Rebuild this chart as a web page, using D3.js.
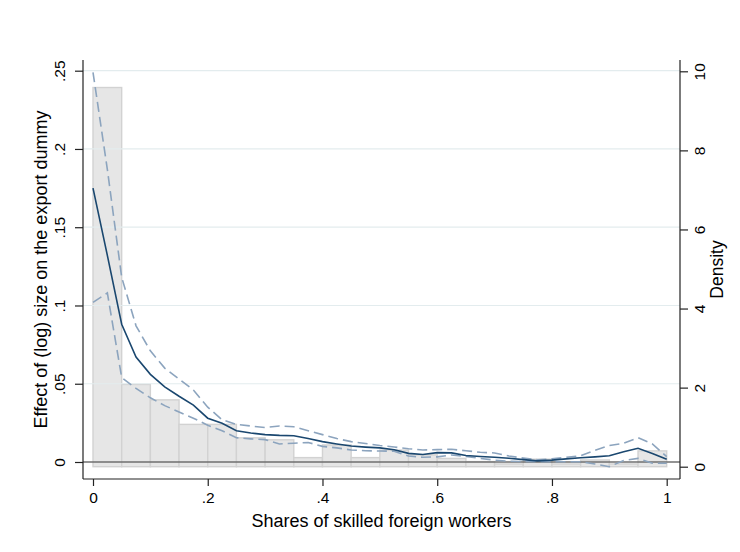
<!DOCTYPE html>
<html>
<body>
<script src="https://d3js.org/d3.v7.min.js"></script>
<style>
  body { margin: 0; background: #fff; }
  text { font-family: "Liberation Sans", Arial, sans-serif; fill: #000; }
  .tick line { stroke: #222; stroke-width: 1.2; }
</style>
<script>
// data
const xs = [0, .025, .05, .075, .1, .125, .15, .175, .2, .225, .25, .275, .3, .325, .35, .375, .4,
  .425, .45, .475, .5, .525, .55, .575, .6, .625, .65, .675, .7, .725, .75, .775, .8, .825,
  .85, .875, .9, .925, .95, .975, 1];

// point estimate
const effect = [.175, .132, .088, .067, .056, .048, .042, .0363, .028, .0248, .020, .0185, .0175,
  .017, .0168, .015, .013, .0115, .0102, .0095, .009, .0078, .0055, .0048, .006, .0058, .0042,
  .0035, .003, .0024, .0015, .0007, .0012, .002, .0027, .0033, .004, .0065, .0088, .0055, .0017];

// upper / lower confidence band
const upper = [.249, .187, .118, .087, .071, .060, .053, .046, .035, .027, .024, .023, .022, .023,
  .0225, .020, .0175, .015, .013, .0118, .0105, .0096, .0085, .0077, .0079, .0081, .0072, .0062,
  .0058, .0038, .0025, .0014, .002, .003, .004, .0075, .0105, .012, .0155, .0115, .0034];

const lower = [.102, .108, .054, .047, .041, .036, .032, .028, .0235, .020, .0155, .0148, .0143,
  .0115, .012, .0125, .010, .009, .0077, .0072, .007, .0069, .0038, .003, .0033, .0045, .0035,
  .0023, .0012, .0005, .0003, .0002, .0002, .0002, .0002, -.0013, -.003, .001, .0023, -.0008, -.0008];

// histogram of the share (density, bins of width .05)
const binLeft = [0, .05, .1, .15, .2, .25, .3, .35, .4, .45, .5, .55, .6, .65, .7, .75, .8, .85, .9, .95];
const density = [9.59, 2.08, 1.69, 1.07, 1.07, 0.73, 0.68, 0.23, 0.55, 0.23, 0.42, 0.30, 0.21,
  0.13, 0.07, 0.19, 0.07, 0.17, 0.07, 0.40];
const binWidth = 0.05;

const leftTicks = [0, .05, .1, .15, .2, .25];
const rightTicks = [0, 2, 4, 6, 8, 10];
const xTicks = [0, .2, .4, .6, .8, 1];

const width = 740, height = 552;
const frame = {left: 83, right: 680, top: 60, bottom: 479};

const svg = d3.select("body").append("svg")
  .attr("width", width)
  .attr("height", height);

const x = d3.scaleLinear().domain([0, 1]).range([93, 666.7]);
const yL = d3.scaleLinear().domain([0, .25]).range([462, 70.7]);
const yR = d3.scaleLinear().domain([0, 10]).range([466.7, 71.3]);

const stataFmt = d => d === 0 ? "0" : String(d).replace(/^0/, "");

// histogram
svg.append("g").selectAll("rect")
  .data(binLeft)
  .enter().append("rect")
  .attr("x", d => x(d))
  .attr("width", d => x(d + binWidth) - x(d))
  .attr("y", (d, i) => yR(density[i]))
  .attr("height", (d, i) => yR(0) - yR(density[i]))
  .style("fill", "#e6e6e6")
  .style("stroke", "#d2d2d2")
  .style("stroke-width", 1.4);

// grid lines
svg.append("g").selectAll("line")
  .data(leftTicks.filter(d => d > 0))
  .enter().append("line")
  .attr("x1", frame.left).attr("x2", frame.right)
  .attr("y1", d => yL(d)).attr("y2", d => yL(d))
  .style("stroke", "#e3ecee")
  .style("stroke-width", 1.2);

// zero line
svg.append("line")
  .attr("x1", frame.left).attr("x2", frame.right)
  .attr("y1", yL(0)).attr("y2", yL(0))
  .style("stroke", "#6f6f6f")
  .style("stroke-width", 1.5);

// lines
const line = d3.line().x((d, i) => x(xs[i])).y(d => yL(d));

[upper, lower].forEach(s => {
  svg.append("path")
    .attr("d", line(s))
    .style("fill", "none")
    .style("stroke", "#8ca4be")
    .style("stroke-width", 1.6)
    .style("stroke-dasharray", "10,5");
});

svg.append("path")
  .attr("d", line(effect))
  .style("fill", "none")
  .style("stroke", "#1a476f")
  .style("stroke-width", 1.6);

// axes
const gLeft = svg.append("g")
  .attr("transform", `translate(${frame.left},0)`)
  .call(d3.axisLeft(yL).tickValues(leftTicks).tickFormat(stataFmt).tickSize(8));
gLeft.selectAll("text")
  .attr("transform", "rotate(-90)")
  .attr("x", 0).attr("y", -18).attr("dy", 0)
  .style("text-anchor", "middle")
  .style("font-size", "15.5px");

const gRight = svg.append("g")
  .attr("transform", `translate(${frame.right},0)`)
  .call(d3.axisRight(yR).tickValues(rightTicks).tickSize(8));
gRight.selectAll("text")
  .attr("transform", "rotate(-90)")
  .attr("x", 0).attr("y", 25).attr("dy", 0)
  .style("text-anchor", "middle")
  .style("font-size", "15.5px");

const gBottom = svg.append("g")
  .attr("transform", `translate(0,${frame.bottom})`)
  .call(d3.axisBottom(x).tickValues(xTicks).tickFormat(stataFmt).tickSize(7));
gBottom.selectAll("text")
  .attr("y", 24).attr("dy", 0)
  .style("font-size", "15.5px");

svg.selectAll(".domain").remove();

// frame lines
[[frame.left, frame.top, frame.left, frame.bottom],
 [frame.right, frame.top, frame.right, frame.bottom],
 [frame.left, frame.bottom, frame.right, frame.bottom]].forEach(l => {
  svg.append("line")
    .attr("x1", l[0]).attr("y1", l[1]).attr("x2", l[2]).attr("y2", l[3])
    .style("stroke", "#222")
    .style("stroke-width", 1.2);
});

// titles
svg.append("text")
  .attr("transform", `translate(47,${(frame.top + frame.bottom) / 2}) rotate(-90)`)
  .style("text-anchor", "middle")
  .style("font-size", "18px")
  .text("Effect of (log) size on the export dummy");

svg.append("text")
  .attr("transform", `translate(723,${(frame.top + frame.bottom) / 2}) rotate(-90)`)
  .style("text-anchor", "middle")
  .style("font-size", "17.5px")
  .text("Density");

svg.append("text")
  .attr("x", (frame.left + frame.right) / 2)
  .attr("y", 527)
  .style("text-anchor", "middle")
  .style("font-size", "18px")
  .text("Shares of skilled foreign workers");
</script>
</body>
</html>
